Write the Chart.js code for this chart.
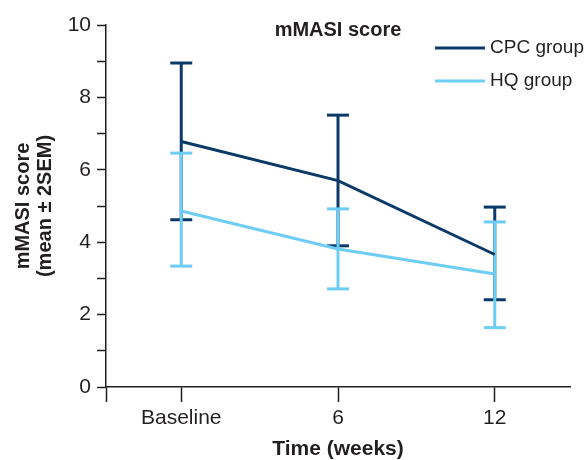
<!DOCTYPE html>
<html lang="en">
<head>
  <meta charset="UTF-8" />
  <title>mMASI score</title>
  <script src="https://cdn.jsdelivr.net/npm/chart.js@4.4.1/dist/chart.umd.min.js"></script>
  <style>
    html, body { margin: 0; padding: 0; background: #fff; }
    #wrap { width: 587px; height: 460px; }
  </style>
</head>
<body>
  <div id="wrap"><canvas id="chart" width="587" height="460"></canvas></div>

  <script>
    // values
    const timeLabels = ['Baseline', '6', '12']
    const cpcMean = [6.78, 5.70, 3.66]
    const cpcLow  = [4.62, 3.90, 2.41]
    const cpcHigh = [8.95, 7.51, 4.97]
    const hqMean  = [4.86, 3.81, 3.12]
    const hqLow   = [3.34, 2.71, 1.64]
    const hqHigh  = [6.46, 4.92, 4.56]

    const CPC = '#0b3a68'
    const HQ = '#6dcdf4'
    const INK = '#231f20'
    const FONT = '"Liberation Sans Narrow", "Arial Narrow", "Liberation Sans", Arial, sans-serif'

    function meanLine(label, means, color) {
      return {
        label: label,
        data: means.map((v, i) => ({ x: i, y: v })),
        showLine: true,
        borderColor: color,
        borderWidth: 3,
        pointRadius: 0,
        order: 0
      }
    }

    function errorBars(means, low, high, color, order) {
      return means.map((m, i) => ({
        label: 'err',
        data: [{ x: i, y: low[i] }, { x: i, y: high[i] }],
        showLine: true,
        borderColor: color,
        borderWidth: 3,
        pointStyle: 'line',
        pointRadius: 11,
        pointBorderWidth: 3,
        pointBorderColor: color,
        order: order
      }))
    }

    const datasets = [
      meanLine('CPC group', cpcMean, CPC),
      meanLine('HQ group', hqMean, HQ),
      ...errorBars(hqMean, hqLow, hqHigh, HQ, 1),
      ...errorBars(cpcMean, cpcLow, cpcHigh, CPC, 2)
    ]

    // title and legend sit inside the plot area
    const overlay = {
      id: 'overlay',
      afterDraw(chart) {
        const ctx = chart.ctx
        const a = chart.chartArea
        ctx.save()
        ctx.fillStyle = INK
        ctx.textBaseline = 'middle'
        ctx.font = 'bold 20px ' + FONT
        ctx.textAlign = 'center'
        ctx.fillText('mMASI score', (a.left + a.right) / 2, a.top + 5)

        const items = [['CPC group', CPC], ['HQ group', HQ]]
        ctx.font = '19px ' + FONT
        ctx.textAlign = 'left'
        items.forEach(([txt, col], k) => {
          const y = a.top + 23 + k * 33
          ctx.strokeStyle = col
          ctx.lineWidth = 3
          ctx.beginPath()
          ctx.moveTo(a.right - 135, y)
          ctx.lineTo(a.right - 85, y)
          ctx.stroke()
          ctx.fillText(txt, a.right - 80, y)
        })
        ctx.restore()
      }
    }

    new Chart(document.getElementById('chart'), {
      type: 'scatter',
      data: { datasets: datasets },
      options: {
        responsive: false,
        animation: false,
        layout: { padding: { top: 25, right: 17, left: 0, bottom: 0 } },
        plugins: {
          legend: { display: false },
          tooltip: { enabled: false }
        },
        scales: {
          x: {
            type: 'linear',
            min: -0.48,
            max: 2.48,
            afterBuildTicks: (s) => {
              s.ticks = [-0.48, 0, 1, 2].map(v => ({ value: v }))
            },
            afterFit: (s) => { s.height = 73 },
            border: { display: true, color: INK, width: 1.5 },
            grid: { drawOnChartArea: false, drawTicks: true, tickLength: 15, tickColor: INK, tickWidth: 1.5 },
            ticks: {
              color: INK,
              font: { family: FONT, size: 21 },
              padding: 4,
              maxRotation: 0,
              autoSkip: false,
              callback: (v) => Number.isInteger(v) ? timeLabels[v] : ''
            },
            title: {
              display: true,
              text: 'Time (weeks)',
              color: INK,
              font: { family: FONT, size: 21, weight: 'bold', lineHeight: 1 },
              padding: { top: 8, bottom: 0 }
            }
          },
          y: {
            min: 0,
            max: 10,
            afterFit: (s) => { s.width = 106 },
            border: { display: true, color: INK, width: 1.5 },
            grid: { drawOnChartArea: false, drawTicks: true, tickLength: 9, tickColor: INK, tickWidth: 1.5 },
            ticks: {
              stepSize: 1,
              color: INK,
              font: { family: FONT, size: 21 },
              padding: 6,
              callback: (v) => v % 2 === 0 ? String(v) : ''
            },
            title: {
              display: true,
              text: ['mMASI score', '(mean ± 2SEM)'],
              color: INK,
              font: { family: FONT, size: 20, weight: 'bold', lineHeight: 1.1 },
              padding: { top: 12, bottom: 0 }
            }
          }
        }
      },
      plugins: [overlay]
    })
  </script>
</body>
</html>
